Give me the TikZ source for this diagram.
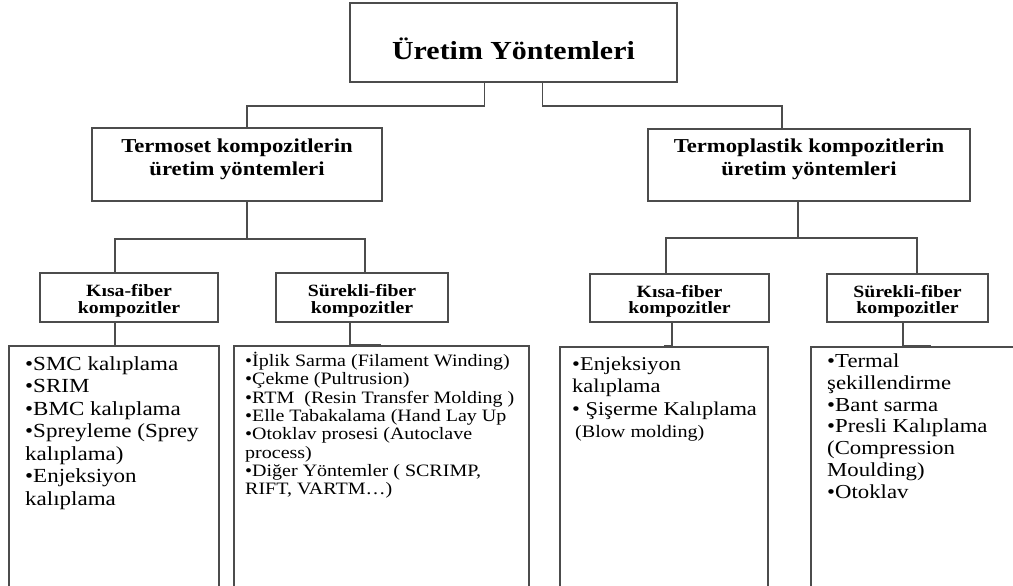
\documentclass[tikz,border=0pt]{standalone}
\usepackage{fontspec}
\setmainfont[FakeStretch=1.15]{Liberation Serif}

\tikzset{
  box/.style={draw=black!70, line width=1.6pt, rectangle, inner sep=0pt, align=center},
  conn/.style={draw=black!70, line width=1.6pt},
  midfont/.style={font=\fontsize{19.7}{22}\selectfont\bfseries, text height=36pt, text depth=15pt},
  smallfont/.style={font=\fontsize{17.2}{16.5}\selectfont\bfseries, text height=31pt, text depth=0pt},
  listbox/.style={box, anchor=north west, minimum height=280},
  listtext/.style={anchor=north west, inner sep=0pt, align=left}
}

\begin{document}
\begin{tikzpicture}[x=1pt,y=-1pt]
\useasboundingbox (0,0) rectangle (1013,586);
\clip (0,0) rectangle (1013,586);

% top level
\node[box, minimum width=327, minimum height=79, text height=35pt, text depth=0pt,
      font=\fontsize{26}{30}\selectfont\bfseries] (top) at (513.5,42.5) {Üretim Yöntemleri};

% second level
\node[box, midfont, minimum width=290, minimum height=73] (tset) at (237,164.5)
  {Termoset kompozitlerin\\üretim yöntemleri};
\node[box, midfont, minimum width=322, minimum height=72, text depth=16pt] (tplas) at (809,165)
  {Termoplastik kompozitlerin\\üretim yöntemleri};

% third level
\node[box, smallfont, minimum width=178, minimum height=49] (kf1) at (129,297.5) {Kısa-fiber\\kompozitler};
\node[box, smallfont, minimum width=172, minimum height=49] (sf1) at (362,297.5) {Sürekli-fiber\\kompozitler};
\node[box, smallfont, minimum width=179, minimum height=48] (kf2) at (679.5,298) {Kısa-fiber\\kompozitler};
\node[box, smallfont, minimum width=161, minimum height=48] (sf2) at (907.5,298) {Sürekli-fiber\\kompozitler};

% lists
\node[listbox, minimum width=210] (l1) at (8,345) {};
\node[listbox, minimum width=295] (l2) at (233,345) {};
\node[listbox, minimum width=208] (l3) at (559,346) {};
\node[listbox, minimum width=240] (l4) at (810,346) {};

\node[listtext, font=\fontsize{20}{22.5}\selectfont] (l1t) at ([xshift=17,yshift=-11]l1.north west)
  {•SMC kalıplama\\•SRIM\\•BMC kalıplama\\•Spreyleme (Sprey\\kalıplama)\\•Enjeksiyon\\kalıplama};
\node[listtext, font=\fontsize{17.4}{18.3}\selectfont] (l2t) at ([xshift=12,yshift=-7]l2.north west)
  {•İplik Sarma (Filament Winding)\\•Çekme (Pultrusion)\\•RTM\ \ (Resin Transfer Molding )\\•Elle Tabakalama (Hand Lay Up\\•Otoklav prosesi (Autoclave\\process)\\•Diğer Yöntemler ( SCRIMP,\\RIFT, VARTM…)};
\node[listtext, font=\fontsize{19.5}{22.3}\selectfont] (l3t) at ([xshift=13,yshift=-10.7]l3.north west)
  {•Enjeksiyon\\kalıplama\\• Şişerme Kalıplama\\{\fontsize{17.5}{22}\selectfont\hspace{3pt}(Blow molding)}};
\node[listtext, font=\fontsize{19.8}{21.8}\selectfont] (l4t) at ([xshift=17,yshift=-7.5]l4.north west)
  {•Termal\\şekillendirme\\•Bant sarma\\•Presli Kalıplama\\(Compression\\Moulding)\\•Otoklav};

% connectors
\draw[conn] ([xshift=-29]top.south) -- ++(0,23) -| ([xshift=10]tset.north);
\draw[conn] ([xshift=29]top.south) -- ++(0,23) -| ([xshift=-27]tplas.north);

\draw[conn] ([xshift=10]tset.south) -- ++(0,37) coordinate (tsetj);
\draw[conn] ([xshift=-14]kf1.north) |- (tsetj) -| ([xshift=3]sf1.north);
\draw[conn] ([xshift=-11]tplas.south) -- ++(0,36) coordinate (tplasj);
\draw[conn] ([xshift=-13.5]kf2.north) |- (tplasj) -| ([xshift=9.5]sf2.north);

\draw[conn] ([xshift=-14]kf1.south) |- (l1.north);
\draw[conn] ([xshift=-12]sf1.south) |- (l2.north);
\draw[conn] ([xshift=-7.5]kf2.south) |- (l3.north);
\draw[conn] ([xshift=-4.5]sf2.south) |- (l4.north);
\end{tikzpicture}
\end{document}
